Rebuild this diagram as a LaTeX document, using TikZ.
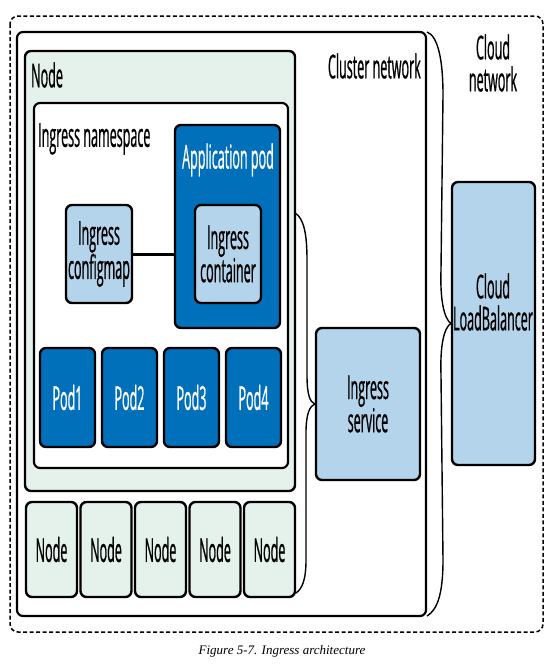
\documentclass[tikz,border=0pt]{standalone}
\usepackage{fontspec}
\setmainfont{Open Sans}[FakeStretch=0.38, FakeBold=0.6]
\newfontfamily\capfont{Liberation Serif}
\usetikzlibrary{positioning}

\definecolor{nodegreen}{HTML}{E4F2EB}
\definecolor{paleblue}{HTML}{B3D4EA}
\definecolor{podblue}{HTML}{0070BA}

\tikzset{
  box/.style={draw=black, line width=2.4pt, rounded corners=6pt, inner sep=0pt,
    align=center, font=\fontsize{33}{32}\selectfont},
  lightbox/.style={box, fill=paleblue, text=black},
  podbox/.style={box, fill=podblue, text=white},
  nodebox/.style={box, fill=nodegreen, minimum width=51pt, minimum height=95pt},
  lbl/.style={inner sep=0pt, align=center, font=\fontsize{33}{32}\selectfont},
  brace/.style={draw, line width=1.4pt},
}

\begin{document}
\begin{tikzpicture}[x=1pt,y=-1pt]
    \useasboundingbox (0,0) rectangle (559,672);

    % outer areas
    \coordinate (OA) at (10,16);
    \coordinate (OB) at (543,632);
    \coordinate (CA) at (17,32);
    \coordinate (CB) at (426,616);
    \coordinate (NA) at (25,51);
    \coordinate (NB) at (295,491);
    \coordinate (SA) at (34,103);
    \coordinate (SB) at (288,468);

    \draw[line width=1.5pt, dash pattern=on 4pt off 2.5pt, rounded corners=8pt] (OA) rectangle (OB);
    \draw[line width=2.2pt, rounded corners=6pt] (CA) rectangle (CB);
    \draw[line width=2.4pt, rounded corners=6pt, fill=nodegreen] (NA) rectangle (NB);
    \draw[line width=2.2pt, rounded corners=6pt, fill=white] (SA) rectangle (SB);

    \node[lbl, anchor=east] (clusterlbl) at (421,66) {Cluster network};
    \node[lbl] (cloudlbl) at (493,63) {Cloud\\network};
    \node[lbl, anchor=west] (nodelbl) at (31,75) {Node};
    \node[lbl, anchor=west] (nslbl) at (38,139) {Ingress namespace};

    % ingress pieces
    \node[podbox, minimum width=105pt, minimum height=203pt] (apppod) at (227.5,226.5) {};
    \node[lbl, text=white] (apppodlbl) at (228,160) {Application pod};
    \node[lightbox, minimum width=66pt, minimum height=98pt] (container) at (228,254) {Ingress\\container};
    \node[lightbox, minimum width=66pt, minimum height=98pt] (configmap) at (99,254) {Ingress\\configmap};
    \draw[line width=3pt] (configmap.east) -- (configmap.east -| apppod.west);

    \foreach \i in {1,...,4}
        \node[podbox, minimum width=55pt, minimum height=99pt] (pod\i) at ({67.5+62*(\i-1)},397.5) {Pod\i};

    \foreach \i in {1,...,5}
        \node[nodebox] (node\i) at ({51.5+54.5*(\i-1)},549.5) {Node};

    \node[lightbox, minimum width=104pt, minimum height=152pt] (svc) at (368,404) {Ingress\\service};
    \node[lightbox, minimum width=83pt, minimum height=283pt] (lb) at (493.5,323.5) {};
    \node[lbl] (lblbl) at (493,302) {Cloud\\LoadBalancer};

    % braces
    \coordinate (b1) at (295,213);
    \coordinate (b2) at (296,593);
    \coordinate (c1) at (427,32);
    \coordinate (c2) at (427,616);

    \draw[brace] (b1) .. controls (304,218) and (307,235) .. (307,260) -- (307,375)
        .. controls (307,395) and (310,402) .. (svc.west)
        .. controls (310,406) and (306,413) .. (306,433) -- (306,560)
        .. controls (306,580) and (302,589) .. (b2);
    \draw[brace] (c1) .. controls (438,36) and (443,60) .. (443,95) -- (441,270)
        .. controls (440,300) and (444,318) .. (lb.west)
        .. controls (444,328) and (440,345) .. (441,375) -- (443,560)
        .. controls (443,595) and (437,610) .. (c2);

    \node[font=\capfont\itshape\fontsize{13}{15}\selectfont] (caption) at (282,651) {Figure 5-7. Ingress architecture};
\end{tikzpicture}
\end{document}
